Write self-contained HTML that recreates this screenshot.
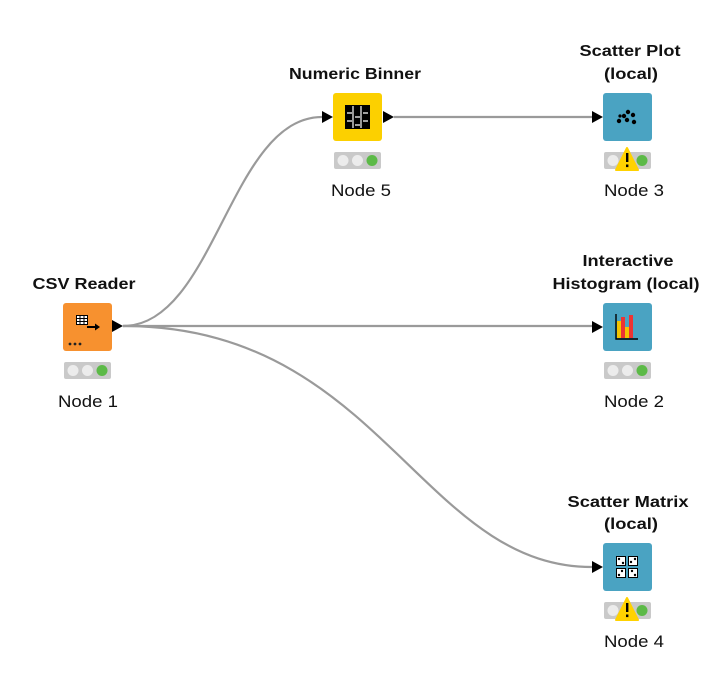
<!DOCTYPE html>
<html><head><meta charset="utf-8"><style>
html,body{margin:0;padding:0;background:#fff;}
svg{display:block;}
text{font-family:"Liberation Sans",Arial,sans-serif;fill:#111;}
.t{font-weight:bold;font-size:16px;}
.n{font-size:17px;}
</style></head><body>
<svg width="726" height="681" viewBox="0 0 726 681" xmlns="http://www.w3.org/2000/svg">
<rect width="726" height="681" fill="#fff"/>
<g fill="none" stroke="#9a9a9a" stroke-width="2.2">
<path d="M123,326 C215,326 230,117 322,117"/>
<path d="M394,117 L592,117"/>
<path d="M123,326 L592,326"/>
<path d="M123,326 C380,326 420,567 592,567"/>
</g>
<g fill="#000">
<path d="M112,320 L123,326 L112,332Z"/>
<path d="M322,111 L333,117 L322,123Z"/>
<path d="M383,111 L394,117 L383,123Z"/>
<path d="M592,111 L603,117 L592,123Z"/>
<path d="M592,321 L603,327 L592,333Z"/>
<path d="M592,561 L603,567 L592,573Z"/>
</g>
<!-- CSV Reader -->
<rect x="63" y="303" width="49" height="48" rx="3" fill="#f7912f"/>
<g stroke="#000" stroke-width="1" fill="#fff">
<rect x="76.5" y="315.5" width="11" height="9"/>
<path d="M76.5,318.5 H87.5 M76.5,321.5 H87.5 M80,315.5 V324.5 M84,315.5 V324.5"/>
</g>
<path d="M87,327 H96" stroke="#000" stroke-width="2"/><path d="M95,323.5 L100,327 L95,330.5Z" fill="#000"/>
<g fill="#222"><circle cx="70" cy="344" r="1.4"/><circle cx="75" cy="344" r="1.4"/><circle cx="80" cy="344" r="1.4"/></g>
<!-- Binner -->
<rect x="333" y="93" width="49" height="48" rx="3" fill="#fcd000"/>
<rect x="345" y="105" width="25" height="24" fill="#000"/>
<g stroke="#fff" stroke-width="1.2"><path d="M353,106 V128 M361,106 V128 M347,113 H352 M355,117 H360 M347,121 H352 M363,121 H368 M355,125 H360 M363,113 H368"/></g>
<!-- Scatter plot -->
<rect x="603" y="93" width="49" height="48" rx="3" fill="#4aa3c2"/>
<g fill="#000"><circle cx="619" cy="121" r="2.2"/><circle cx="624" cy="116" r="2.2"/><circle cx="628" cy="112" r="2.2"/><circle cx="633" cy="115" r="2.2"/><circle cx="627" cy="120" r="2.2"/><circle cx="634" cy="122" r="2.2"/><circle cx="620" cy="116" r="1.6"/></g>
<!-- Histogram -->
<rect x="603" y="303" width="49" height="48" rx="3" fill="#4aa3c2"/>
<rect x="617" y="321" width="4" height="17" fill="#f5c400"/>
<rect x="621" y="317" width="4" height="21" fill="#e33"/>
<rect x="625" y="327" width="4" height="11" fill="#f5c400"/>
<rect x="629" y="315" width="4" height="23" fill="#e33"/>
<path d="M616,314 V339 H638" stroke="#000" stroke-width="1.4" fill="none"/>
<!-- Scatter matrix -->
<rect x="603" y="543" width="49" height="48" rx="3" fill="#4aa3c2"/>
<g fill="#fff" stroke="#000" stroke-width="1"><rect x="616.5" y="556.5" width="9" height="9"/><rect x="628.5" y="556.5" width="9" height="9"/><rect x="616.5" y="568.5" width="9" height="9"/><rect x="628.5" y="568.5" width="9" height="9"/></g>
<g fill="#000"><circle cx="619" cy="559" r="1.2"/><circle cx="623" cy="563" r="1.2"/><circle cx="631" cy="562" r="1.2"/><circle cx="635" cy="559" r="1.2"/><circle cx="619" cy="575" r="1.2"/><circle cx="622" cy="571" r="1.2"/><circle cx="632" cy="571" r="1.2"/><circle cx="635" cy="575" r="1.2"/></g>
<!-- status bars -->
<g id="s">
<rect x="64" y="362" width="47" height="17" rx="2" fill="#c9c9c9"/>
<circle cx="73" cy="370.5" r="5.5" fill="#ececec"/><circle cx="87.5" cy="370.5" r="5.5" fill="#ececec"/><circle cx="102" cy="370.5" r="5.5" fill="#5cba47"/>
</g>
<use href="#s" x="270" y="-210"/>
<use href="#s" x="540" y="-210"/>
<use href="#s" x="540" y="0"/>
<use href="#s" x="540" y="240"/>
<g id="w"><path d="M627,148 L638,170 L616,170Z" fill="#ffd200" stroke="#ffd200" stroke-linejoin="round" stroke-width="2"/>
<rect x="626" y="153" width="2.4" height="9" fill="#000"/><rect x="626" y="164.5" width="2.4" height="2.6" fill="#000"/></g>
<use href="#w" x="0" y="450"/>
<!-- labels -->
<text class="t" x="84" y="289" text-anchor="middle" textLength="103" lengthAdjust="spacingAndGlyphs">CSV Reader</text>
<text class="t" x="355" y="79" text-anchor="middle" textLength="132" lengthAdjust="spacingAndGlyphs">Numeric Binner</text>
<text class="t" x="630" y="56" text-anchor="middle" textLength="101" lengthAdjust="spacingAndGlyphs">Scatter Plot</text>
<text class="t" x="631" y="79" text-anchor="middle" textLength="54" lengthAdjust="spacingAndGlyphs">(local)</text>
<text class="t" x="628" y="266" text-anchor="middle" textLength="91" lengthAdjust="spacingAndGlyphs">Interactive</text>
<text class="t" x="626" y="289" text-anchor="middle" textLength="147" lengthAdjust="spacingAndGlyphs">Histogram (local)</text>
<text class="t" x="628" y="507" text-anchor="middle" textLength="121" lengthAdjust="spacingAndGlyphs">Scatter Matrix</text>
<text class="t" x="631" y="529" text-anchor="middle" textLength="54" lengthAdjust="spacingAndGlyphs">(local)</text>
<text class="n" x="88" y="407" text-anchor="middle" textLength="60" lengthAdjust="spacingAndGlyphs">Node 1</text>
<text class="n" x="361" y="196" text-anchor="middle" textLength="60" lengthAdjust="spacingAndGlyphs">Node 5</text>
<text class="n" x="634" y="196" text-anchor="middle" textLength="60" lengthAdjust="spacingAndGlyphs">Node 3</text>
<text class="n" x="634" y="407" text-anchor="middle" textLength="60" lengthAdjust="spacingAndGlyphs">Node 2</text>
<text class="n" x="634" y="647" text-anchor="middle" textLength="60" lengthAdjust="spacingAndGlyphs">Node 4</text>
</svg>
</body></html>
